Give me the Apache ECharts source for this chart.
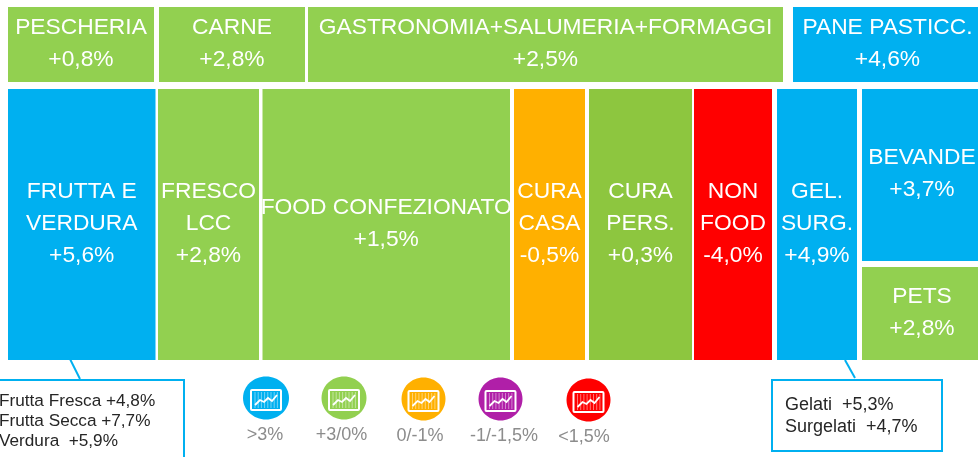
<!DOCTYPE html>
<html>
<head>
<meta charset="utf-8">
<style>html,body{margin:0;padding:0;background:#fff}#c{width:978px;height:457px}</style>
<script src="https://cdn.jsdelivr.net/npm/echarts@6/dist/echarts.min.js"></script>
</head>
<body>
<div id="c"></div>
<script>
// ---- data ----
const topCategories = ['PESCHERIA', 'CARNE', 'GASTRONOMIA+SALUMERIA+FORMAGGI', 'PANE PASTICC.'];
const topChanges = [0.8, 2.8, 2.5, 4.6];
const topSizes = [146, 146, 475, 189];

const mainCategories = ['FRUTTA E\nVERDURA', 'FRESCO\nLCC', 'FOOD CONFEZIONATO', 'CURA\nCASA', 'CURA\nPERS.', 'NON\nFOOD', 'GEL.\nSURG.'];
const mainChanges = [5.6, 2.8, 1.5, -0.5, 0.3, -4.0, 4.9];
const mainSizes = [147.5, 101, 247.5, 71, 103, 78, 80];

const sideCategories = ['BEVANDE', 'PETS'];
const sideChanges = [3.7, 2.8];
const sideSizes = [172, 93];

const legendLabels = ['>3%', '+3/0%', '0/-1%', '-1/-1,5%', '<1,5%'];
const detailLeft = ['Frutta Fresca +4,8%', 'Frutta Secca +7,7%', 'Verdura  +5,9%'];
const detailRight = ['Gelati  +5,3%', 'Surgelati  +4,7%'];

// ---- styling and layout ----
const FONT = '"Liberation Sans", Arial, sans-serif';
const BLUE = '#00B0F0', GREEN = '#92D050', DARKGREEN = '#8DC63F', ORANGE = '#FFB000', PURPLE = '#B01FA8', RED = '#FF0000';
const legendColors = [BLUE, GREEN, ORANGE, PURPLE, RED];
function bandColor(v) {
  if (v > 3) return BLUE;
  if (v >= 0) return GREEN;
  if (v >= -1) return ORANGE;
  if (v >= -1.5) return PURPLE;
  return RED;
}
function fmt(v) {
  return (v >= 0 ? '+' : '-') + Math.abs(v).toFixed(1).replace('.', ',') + '%';
}
const topRow = { start: 8, y0: 7, y1: 82, gaps: [5, 3, 10] };
const mainRow = { start: 8, y0: 89, y1: 360, gaps: [2.5, 3.5, 4, 4, 2, 5] };
const sideCol = { x0: 862, x1: 982, start: 89, gap: 6 };

const cells = [];
function pushRow(names, changes, sizes, row) {
  let x = row.start;
  names.forEach(function (n, i) {
    cells.push({ name: n, change: changes[i], value: [x, row.y0, x + sizes[i], row.y1] });
    x += sizes[i] + (row.gaps[i] || 0);
  });
}
pushRow(topCategories, topChanges, topSizes, topRow);
pushRow(mainCategories, mainChanges, mainSizes, mainRow);
(function () {
  let y = sideCol.start;
  sideCategories.forEach(function (n, i) {
    cells.push({ name: n, change: sideChanges[i], value: [sideCol.x0, y, sideCol.x1, y + sideSizes[i]] });
    y += sideSizes[i] + sideCol.gap;
  });
})();

function renderCell(params, api) {
  const c = cells[params.dataIndex];
  const p0 = api.coord([api.value(0), api.value(1)]);
  const p1 = api.coord([api.value(2), api.value(3)]);
  let fill = bandColor(c.change);
  if (c.name === 'CURA\nPERS.') fill = DARKGREEN;
  return {
    type: 'group',
    children: [
      { type: 'rect', shape: { x: p0[0], y: p0[1], width: p1[0] - p0[0], height: p1[1] - p0[1] }, style: { fill: fill } },
      { type: 'text', style: {
          x: (p0[0] + p1[0]) / 2, y: (p0[1] + p1[1]) / 2 - 1,
          text: c.name + '\n' + fmt(c.change),
          fill: '#fff', font: '22.8px ' + FONT, lineHeight: 32, align: 'center', verticalAlign: 'middle'
      } }
    ]
  };
}

// ---- legend + callouts (decoration) ----
const legendPos = [[266, 398, 23, 21.5], [344, 398, 22.5, 21.5], [423.5, 399, 22, 21.5], [500.5, 399, 22, 21.5], [588.5, 400, 22, 21.5]];
const legendText = [[265, 435], [341.5, 435], [420, 436], [504, 436], [584, 437]];
const graphics = [];
legendPos.forEach(function (p, i) {
  const cx = p[0], cy = p[1];
  graphics.push({ type: 'ellipse', silent: true, shape: { cx: cx, cy: cy, rx: p[2], ry: p[3] }, style: { fill: legendColors[i] } });
  for (let k = 0; k < 8; k++) {
    const vx = cx - 11 + k * 3.2;
    graphics.push({ type: 'line', silent: true, shape: { x1: vx, y1: cy - 6, x2: vx, y2: cy + 10 }, style: { stroke: 'rgba(255,255,255,0.45)', lineWidth: 1 } });
  }
  graphics.push({ type: 'rect', silent: true, shape: { x: cx - 15, y: cy - 8, width: 30, height: 20, r: 1 }, style: { fill: 'none', stroke: '#fff', lineWidth: 2 } });
  graphics.push({ type: 'polyline', silent: true, shape: { points: [[cx - 11, cy + 7], [cx - 6, cy + 2], [cx - 2, cy + 4], [cx + 2, cy], [cx + 6, cy + 3], [cx + 11, cy - 3]] }, style: { fill: 'none', stroke: '#fff', lineWidth: 1.8 } });
  graphics.push({ type: 'text', silent: true, style: { x: legendText[i][0], y: legendText[i][1], text: legendLabels[i], fill: '#8C8C8C', font: '18px ' + FONT, align: 'center', verticalAlign: 'middle' } });
});
function callout(box, ptr, lines, tx, ty, lh, size) {
  graphics.push({ type: 'line', silent: true, shape: { x1: ptr[0], y1: ptr[1], x2: ptr[2], y2: ptr[3] }, style: { stroke: BLUE, lineWidth: 2 } });
  graphics.push({ type: 'rect', silent: true, shape: { x: box[0], y: box[1], width: box[2], height: box[3] }, style: { fill: '#fff', stroke: BLUE, lineWidth: 2 } });
  lines.forEach(function (t, i) {
    graphics.push({ type: 'text', silent: true, style: { x: tx, y: ty + i * lh, text: t, fill: '#262626', font: size + 'px ' + FONT, align: 'left', verticalAlign: 'middle' } });
  });
}
callout([-10, 380, 194, 90], [70, 359, 80, 379], detailLeft, -1, 401, 20, 17.2);
callout([772, 380, 170, 71], [845, 360, 855, 378], detailRight, 785, 405, 22, 18);

const chart = echarts.init(document.getElementById('c'), null, { renderer: 'canvas' });
chart.setOption({
  backgroundColor: '#fff',
  animation: false,
  tooltip: { show: false },
  grid: { left: 0, right: 0, top: 0, bottom: 0 },
  xAxis: { type: 'value', min: 0, max: 978, show: false },
  yAxis: { type: 'value', min: 0, max: 457, inverse: true, show: false },
  series: [{
    type: 'custom',
    coordinateSystem: 'cartesian2d',
    clip: false,
    silent: true,
    encode: { x: [0, 2], y: [1, 3] },
    data: cells.map(function (c) { return c.value; }),
    renderItem: renderCell
  }],
  graphic: graphics
});
</script>
</body>
</html>
